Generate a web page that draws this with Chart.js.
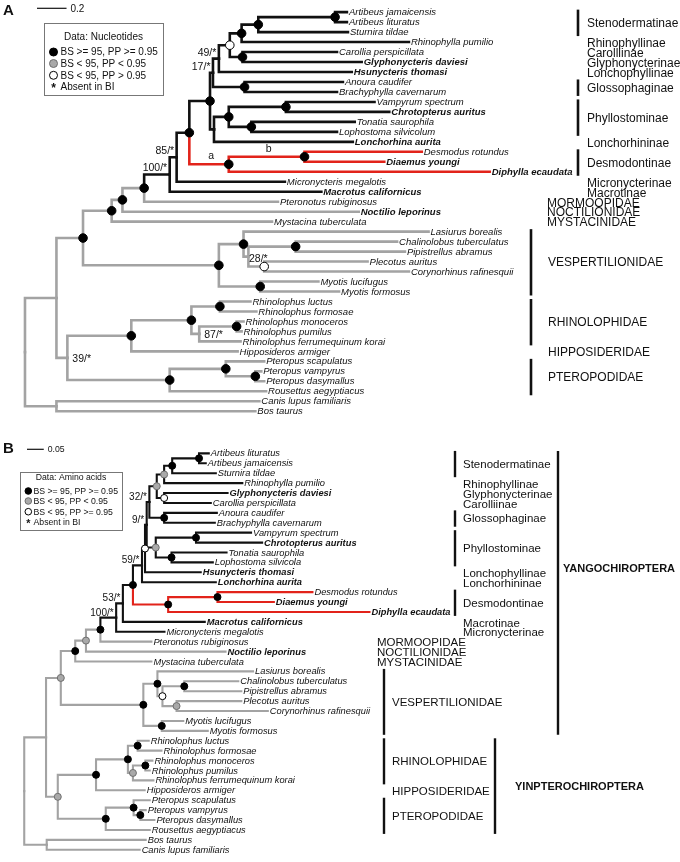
<!DOCTYPE html>
<html>
<head>
<meta charset="utf-8">
<script src="https://cdn.jsdelivr.net/npm/chart.js@4.4.1/dist/chart.umd.min.js"></script>
<style>
    html, body { margin: 0; padding: 0; background: #fff; }
    canvas { display: block; }
</style>
</head>
<body>
<canvas id="treeA" width="680" height="430"></canvas>
<canvas id="treeB" width="680" height="432"></canvas>
<script>
// ---- panel A : nucleotides ----
const tipsA = [
    'Artibeus jamaicensis', 'Artibeus lituratus', 'Sturnira tildae', 'Rhinophylla pumilio',
    'Carollia perspicillata', 'Glyphonycteris daviesi', 'Hsunycteris thomasi', 'Anoura caudifer',
    'Brachyphylla cavernarum', 'Vampyrum spectrum', 'Chrotopterus auritus', 'Tonatia saurophila',
    'Lophostoma silvicolum', 'Lonchorhina aurita', 'Desmodus rotundus', 'Diaemus youngi',
    'Diphylla ecaudata', 'Micronycteris megalotis', 'Macrotus californicus', 'Pteronotus rubiginosus',
    'Noctilio leporinus', 'Mystacina tuberculata', 'Lasiurus borealis', 'Chalinolobus tuberculatus',
    'Pipistrellus abramus', 'Plecotus auritus', 'Corynorhinus rafinesquii', 'Myotis lucifugus',
    'Myotis formosus', 'Rhinolophus luctus', 'Rhinolophus formosae', 'Rhinolophus monoceros',
    'Rhinolophus pumilus', 'Rhinolophus ferrumequinum korai', 'Hipposideros armiger', 'Pteropus scapulatus',
    'Pteropus vampyrus', 'Pteropus dasymallus', 'Rousettus aegyptiacus', 'Canis lupus familiaris',
    'Bos taurus'
];
// distance from root to each tip (substitutions / site)
const tipXA = [
    2.180, 2.180, 2.187, 2.600, 2.113, 2.280, 2.213, 2.153, 2.113, 2.367,
    2.467, 2.233, 2.113, 2.220, 2.687, 2.433, 3.147, 1.760, 2.007, 1.713,
    2.260, 1.673, 2.733, 2.520, 2.573, 2.320, 2.600, 1.987, 2.127, 1.527,
    1.567, 1.480, 1.467, 1.460, 1.440, 1.620, 1.600, 1.620, 1.633, 1.587,
    1.560
];
// [id, children, depth, dot (b black / g grey / w white), support, label place]
const nodesA = [
    ['ART', [0, 1], 2.100, 'b'],
    ['STU', ['ART', 2], 1.580, 'b'],
    ['RHI', ['STU', 3], 1.467, 'b'],
    ['CAR', [4, 5], 1.473, 'b'],
    ['U49', ['RHI', 'CAR'], 1.387, 'w'],
    ['N49', ['U49', 6], 1.313, '', '49/*', 'left'],
    ['GLO', [7, 8], 1.487, 'b'],
    ['N17', ['N49', 'GLO'], 1.273, '', '17/*', 'left'],
    ['VAM', [9, 10], 1.767, 'b'],
    ['TON', [11, 12], 1.533, 'b'],
    ['PHY', ['VAM', 'TON'], 1.380, 'b'],
    ['PL', ['PHY', 13], 1.280, ''],
    ['N208', ['N17', 'PL'], 1.253, 'b'],
    ['DES2', [14, 15], 1.893, 'b', 'b', 'mid'],
    ['DES', ['DES2', 16], 1.380, 'b', 'a', 'mid'],
    ['N187', ['N208', 'DES'], 1.113, 'b'],
    ['N85', ['N187', 17], 1.027, '', '85/*', 'left'],
    ['N100', ['N85', 18], 0.980, '', '100/*', 'left'],
    ['MOR', ['N100', 19], 0.807, 'b'],
    ['NOC', ['MOR', 20], 0.660, 'b'],
    ['NOO', ['NOC', 21], 0.587, 'b'],
    ['CHA', [23, 24], 1.833, 'b'],
    ['PLE', [25, 26], 1.620, 'w', '28/*', 'mid'],
    ['V2', ['CHA', 'PLE'], 1.513, ''],
    ['V1', [22, 'V2'], 1.480, 'b'],
    ['MYO', [27, 28], 1.593, 'b'],
    ['VES', ['V1', 'MYO'], 1.313, 'b'],
    ['YAN', ['NOO', 'VES'], 0.393, 'b'],
    ['LUC', [29, 30], 1.320, 'b'],
    ['MON', [31, 32], 1.433, 'b'],
    ['R87', ['MON', 33], 1.180, '', '87/*', 'right'],
    ['RHL', ['LUC', 'R87'], 1.127, 'b'],
    ['RHO', ['RHL', 34], 0.720, 'b'],
    ['PTV', [36, 37], 1.560, 'b'],
    ['PTE', [35, 'PTV'], 1.360, 'b'],
    ['PTD', ['PTE', 38], 0.980, 'b'],
    ['YIN', ['RHO', 'PTD'], 0.287, '', '39/*', 'right'],
    ['BAT', ['YAN', 'YIN'], 0.213, ''],
    ['OUT', [39, 40], 0.213, ''],
    ['ROOT', ['BAT', 'OUT'], 0, '']
];
// [name, first row, last row, level, bar]
const cladesA = [
    ['Stenodermatinae', 0, 2, 'sub', true],
    ['Rhinophyllinae', 3, 3, 'sub', false],
    ['Carolliinae', 4, 4, 'sub', false],
    ['Glyphonycterinae', 5, 5, 'sub', false],
    ['Lonchophyllinae', 6, 6, 'sub', false],
    ['Glossophaginae', 7, 8, 'sub', true],
    ['Phyllostominae', 9, 12, 'sub', true],
    ['Lonchorhininae', 13, 13, 'sub', false],
    ['Desmodontinae', 14, 16, 'sub', true],
    ['Micronycterinae', 17, 17, 'sub', false],
    ['Macrotinae', 18, 18, 'sub', false],
    ['MORMOOPIDAE', 19, 19, 'fam0', false],
    ['NOCTILIONIDAE', 20, 20, 'fam0', false],
    ['MYSTACINIDAE', 21, 21, 'fam0', false],
    ['VESPERTILIONIDAE', 22, 28, 'fam', true],
    ['RHINOLOPHIDAE', 29, 33, 'fam', true],
    ['HIPPOSIDERIDAE', 34, 34, 'fam', false],
    ['PTEROPODIDAE', 35, 38, 'fam', true]
];
const legendA = ['BS >= 95, PP >= 0.95', 'BS < 95, PP < 0.95', 'BS < 95, PP > 0.95', 'Absent in BI'];

// ---- panel B : amino acids ----
const tipsB = [
    'Artibeus lituratus', 'Artibeus jamaicensis', 'Sturnira tildae', 'Rhinophylla pumilio',
    'Glyphonycteris daviesi', 'Carollia perspicillata', 'Anoura caudifer', 'Brachyphylla cavernarum',
    'Vampyrum spectrum', 'Chrotopterus auritus', 'Tonatia saurophila', 'Lophostoma silvicola',
    'Hsunycteris thomasi', 'Lonchorhina aurita', 'Desmodus rotundus', 'Diaemus youngi',
    'Diphylla ecaudata', 'Macrotus californicus', 'Micronycteris megalotis', 'Pteronotus rubiginosus',
    'Noctilio leporinus', 'Mystacina tuberculata', 'Lasiurus borealis', 'Chalinolobus tuberculatus',
    'Pipistrellus abramus', 'Plecotus auritus', 'Corynorhinus rafinesquii', 'Myotis lucifugus',
    'Myotis formosus', 'Rhinolophus luctus', 'Rhinolophus formosae', 'Rhinolophus monoceros',
    'Rhinolophus pumilus', 'Rhinolophus ferrumequinum korai', 'Hipposideros armiger', 'Pteropus scapulatus',
    'Pteropus vampyrus', 'Pteropus dasymallus', 'Rousettus aegyptiacus', 'Bos taurus',
    'Canis lupus familiaris'
];
const tipXB = [
    0.550, 0.541, 0.571, 0.650, 0.606, 0.556, 0.574, 0.568, 0.676, 0.709,
    0.603, 0.562, 0.526, 0.571, 0.859, 0.744, 1.029, 0.538, 0.418, 0.379,
    0.600, 0.379, 0.682, 0.638, 0.647, 0.647, 0.726, 0.474, 0.547, 0.371,
    0.409, 0.382, 0.374, 0.385, 0.359, 0.374, 0.362, 0.388, 0.374, 0.362,
    0.344
];
const nodesB = [
    ['ART', [0, 1], 0.521, 'b'],
    ['STU', ['ART', 2], 0.441, 'b'],
    ['RHI', ['STU', 3], 0.417, 'g'],
    ['CAR', [4, 5], 0.417, 'w'],
    ['SRC', ['RHI', 'CAR'], 0.395, 'g'],
    ['GLO', [6, 7], 0.417, 'b'],
    ['N32', ['SRC', 'GLO'], 0.373, '', '32/*', 'left'],
    ['VAM', [8, 9], 0.512, 'b'],
    ['TON', [10, 11], 0.439, 'b'],
    ['PHY', ['VAM', 'TON'], 0.392, 'g'],
    ['N9', ['N32', 'PHY'], 0.365, '', '9/*', 'left'],
    ['NH', ['N9', 12], 0.360, 'w'],
    ['NL', ['NH', 13], 0.351, '', '59/*', 'left'],
    ['DES2', [14, 15], 0.576, 'b'],
    ['DES', ['DES2', 16], 0.429, 'b'],
    ['N59', ['NL', 'DES'], 0.324, 'b'],
    ['N53', ['N59', 17], 0.294, '', '53/*', 'left'],
    ['N100', ['N53', 18], 0.274, '', '100/*', 'left'],
    ['MOR', ['N100', 19], 0.227, 'b'],
    ['NOC', ['MOR', 20], 0.184, 'g'],
    ['NOO', ['NOC', 21], 0.152, 'b'],
    ['CHA', [23, 24], 0.477, 'b'],
    ['PLE', [25, 26], 0.454, 'g'],
    ['V2', ['CHA', 'PLE'], 0.412, 'w'],
    ['V1', [22, 'V2'], 0.397, 'b'],
    ['MYO', [27, 28], 0.410, 'b'],
    ['VES', ['V1', 'MYO'], 0.355, 'b'],
    ['YAN', ['NOO', 'VES'], 0.109, 'g'],
    ['LUC', [29, 30], 0.338, 'b'],
    ['MON', [31, 32], 0.361, 'b'],
    ['RFG', ['MON', 33], 0.324, 'g'],
    ['RHL', ['LUC', 'RFG'], 0.309, 'b'],
    ['RHO', ['RHL', 34], 0.214, 'b'],
    ['PTV', [36, 37], 0.346, 'b'],
    ['PTE', [35, 'PTV'], 0.326, 'b'],
    ['PTD', ['PTE', 38], 0.243, 'b'],
    ['YIN', ['RHO', 'PTD'], 0.100, 'g'],
    ['BAT', ['YAN', 'YIN'], 0.065, ''],
    ['OUT', [39, 40], 0.067, ''],
    ['ROOT', ['BAT', 'OUT'], 0, '']
];
const cladesB = [
    ['Stenodermatinae', 0, 2, 'sub', true],
    ['Rhinophyllinae', 3, 3, 'sub', false],
    ['Glyphonycterinae', 4, 4, 'sub', false],
    ['Carolliinae', 5, 5, 'sub', false],
    ['Glossophaginae', 6, 7, 'sub', true],
    ['Phyllostominae', 8, 11, 'sub', true],
    ['Lonchophyllinae', 12, 12, 'sub', false],
    ['Lonchorhininae', 13, 13, 'sub', false],
    ['Desmodontinae', 14, 16, 'sub', true],
    ['Macrotinae', 17, 17, 'sub', false],
    ['Micronycterinae', 18, 18, 'sub', false],
    ['MORMOOPIDAE', 19, 19, 'fam0', false],
    ['NOCTILIONIDAE', 20, 20, 'fam0', false],
    ['MYSTACINIDAE', 21, 21, 'fam0', false],
    ['VESPERTILIONIDAE', 22, 28, 'fam', true],
    ['RHINOLOPHIDAE', 29, 33, 'fam', true],
    ['HIPPOSIDERIDAE', 34, 34, 'fam', false],
    ['PTEROPODIDAE', 35, 38, 'fam', true],
    ['YANGOCHIROPTERA', 0, 28, 'ord1', true, 11.7],
    ['YINPTEROCHIROPTERA', 29, 38, 'ord2', true]
];
const legendB = ['BS >= 95, PP >= 0.95', 'BS < 95, PP < 0.95', 'BS < 95, PP >= 0.95', 'Absent in BI'];

const boldTips = [
    'Glyphonycteris daviesi', 'Hsunycteris thomasi', 'Chrotopterus auritus', 'Lonchorhina aurita',
    'Diaemus youngi', 'Diphylla ecaudata', 'Macrotus californicus', 'Noctilio leporinus'
];

const FONT = '"Liberation Sans", Arial, Helvetica, sans-serif';
const INK = '#111';
const RED = '#e2231a';
const GREY = '#a3a3a3';
const DOT_FILL = { b: '#000', g: '#a9a9a9', w: '#fff' };
const DOT_EDGE = { b: '#000', g: '#6f6f6f', w: '#000' };

function makePanel(canvasId, d) {
    const pos = {}, parent = {};
    d.tipX.forEach(function(x, i) { pos[i] = { x: x, y: i }; });
    d.nodes.forEach(function(n) {
        const ys = n[1].map(function(k) { return pos[k].y; });
        pos[n[0]] = { x: n[2], y: (ys[0] + ys[ys.length - 1]) / 2 };
        n[1].forEach(function(k) { parent[k] = n[0]; });
    });
    function under(id, root) {
        let c = id;
        while (c !== undefined) {
            if (c === root) return true;
            c = parent[c];
        }
        return false;
    }
    function colourOf(id) {
        if (under(id, 'DES')) return RED;
        if (under(id, 'N100')) return INK;
        return GREY;
    }

    const datasets = [];
    ['b', 'g', 'w'].forEach(function(t) {
        datasets.push({
            data: d.nodes.filter(function(n) { return n[3] === t; })
                .map(function(n) { return { x: pos[n[0]].x, y: pos[n[0]].y }; }),
            showLine: false,
            pointRadius: d.dotR,
            pointHoverRadius: d.dotR,
            pointBackgroundColor: DOT_FILL[t],
            pointBorderColor: DOT_EDGE[t],
            pointBorderWidth: 1,
            order: 0,
            clip: false
        });
    });
    d.nodes.forEach(function(n) {
        const p = pos[n[0]];
        n[1].forEach(function(k) {
            const c = pos[k];
            datasets.push({
                data: [{ x: p.x, y: p.y }, { x: p.x, y: c.y }, { x: c.x, y: c.y }],
                showLine: true,
                borderColor: colourOf(k),
                borderWidth: d.lineW,
                borderCapStyle: 'square',
                borderJoinStyle: 'miter',
                pointRadius: 0,
                pointHoverRadius: 0,
                tension: 0,
                fill: false,
                order: 1,
                clip: false
            });
        });
    });

    const treeText = {
        id: 'treeText',
        afterDatasetsDraw: function(chart) {
            const ctx = chart.ctx;
            const X = function(v) { return chart.scales.x.getPixelForValue(v); };
            const Y = function(v) { return chart.scales.y.getPixelForValue(v); };
            ctx.save();
            ctx.fillStyle = INK;

            // tip names
            ctx.textAlign = 'left';
            ctx.textBaseline = 'middle';
            d.tips.forEach(function(name, i) {
                const bold = boldTips.indexOf(name) >= 0;
                ctx.font = 'italic ' + (bold ? 'bold ' : '') + d.tipFont + 'px ' + FONT;
                ctx.fillText(name, X(d.tipX[i]) + 2, Y(i) + 0.5);
            });

            // support values
            ctx.font = d.supFont + 'px ' + FONT;
            d.nodes.forEach(function(n) {
                if (!n[4]) return;
                const px = X(pos[n[0]].x), py = Y(pos[n[0]].y);
                if (n[5] === 'left') {
                    ctx.textAlign = 'right';
                    ctx.textBaseline = 'alphabetic';
                    ctx.fillText(n[4], px - 2.5, py - d.supLift);
                } else if (n[5] === 'mid') {
                    const pp = X(pos[parent[n[0]]].x);
                    ctx.textAlign = 'center';
                    ctx.textBaseline = 'alphabetic';
                    ctx.fillText(n[4], (pp + px) / 2 + 2, py - 5);
                } else {
                    ctx.textAlign = 'left';
                    ctx.textBaseline = 'middle';
                    ctx.fillText(n[4], px + 5, py + 1);
                }
            });

            // clade bars and names
            ctx.textAlign = 'left';
            ctx.textBaseline = 'middle';
            ctx.strokeStyle = INK;
            ctx.lineWidth = d.barW;
            d.clades.forEach(function(c) {
                const sx = d.cladeX[c[3]];
                if (c[4]) {
                    ctx.beginPath();
                    ctx.moveTo(sx[0], Y(c[1] - 0.25));
                    ctx.lineTo(sx[0], Y(c[2] + 0.4));
                    ctx.stroke();
                }
                const ord = c[3].indexOf('ord') === 0;
                ctx.font = (ord ? 'bold ' + d.ordFont : d.cladeFont) + 'px ' + FONT;
                const row = c[5] !== undefined ? c[5] : (c[1] + c[2]) / 2 + 0.15;
                ctx.fillText(c[0], sx[1], Y(row));
            });

            // panel letter and scale bar
            ctx.font = 'bold 15px ' + FONT;
            ctx.fillText(d.letter, 3, d.letterY);
            const len = X(d.scaleLen) - X(0);
            ctx.lineWidth = 1.2;
            ctx.beginPath();
            ctx.moveTo(d.scaleX, d.scaleY);
            ctx.lineTo(d.scaleX + len, d.scaleY);
            ctx.stroke();
            ctx.font = d.legFont + 'px ' + FONT;
            ctx.fillText(String(d.scaleLen), d.scaleX + len + 4, d.scaleY + 0.5);

            // legend box
            const L = d.legBox;
            ctx.fillStyle = '#fff';
            ctx.fillRect(L[0], L[1], L[2], L[3]);
            ctx.strokeStyle = '#777';
            ctx.lineWidth = 1;
            ctx.strokeRect(L[0] + 0.5, L[1] + 0.5, L[2], L[3]);
            ctx.fillStyle = INK;
            ctx.textAlign = 'center';
            ctx.fillText(d.legTitle, L[0] + L[2] / 2, L[1] + d.legRows[0]);
            ctx.textAlign = 'left';
            ['b', 'g', 'w', '*'].forEach(function(t, i) {
                const yy = L[1] + d.legRows[i + 1];
                const mx = L[0] + d.legMarkX;
                if (t === '*') {
                    ctx.font = 'bold ' + (d.legFont + 2) + 'px ' + FONT;
                    ctx.textAlign = 'center';
                    ctx.fillText('*', mx, yy + 2);
                    ctx.textAlign = 'left';
                } else {
                    ctx.beginPath();
                    ctx.arc(mx, yy, d.legR, 0, Math.PI * 2);
                    ctx.fillStyle = DOT_FILL[t];
                    ctx.fill();
                    ctx.strokeStyle = DOT_EDGE[t];
                    ctx.lineWidth = 1;
                    ctx.stroke();
                    ctx.fillStyle = INK;
                }
                ctx.font = d.legFont + 'px ' + FONT;
                ctx.fillText(d.legItems[i], L[0] + d.legTextX, yy + 0.5);
            });
            ctx.restore();
        }
    };

    const el = document.getElementById(canvasId);
    const w = el.width, h = el.height;
    new Chart(el, {
        type: 'scatter',
        data: { datasets: datasets },
        options: {
            responsive: false,
            animation: false,
            events: [],
            layout: { padding: 0 },
            plugins: {
                legend: { display: false },
                tooltip: { enabled: false }
            },
            scales: {
                x: {
                    type: 'linear', display: false,
                    min: -d.rootPx / d.pxPerUnit,
                    max: (w - d.rootPx) / d.pxPerUnit
                },
                y: {
                    type: 'linear', display: false, reverse: true,
                    min: -d.rowTop / d.rowStep,
                    max: (h - d.rowTop) / d.rowStep
                }
            }
        },
        plugins: [treeText]
    });
}

document.addEventListener('DOMContentLoaded', function() {
    makePanel('treeA', {
        tips: tipsA, tipX: tipXA, nodes: nodesA, clades: cladesA, legItems: legendA,
        legTitle: 'Data: Nucleotides', letter: 'A', letterY: 11,
        rootPx: 20, pxPerUnit: 150, rowTop: 7, rowStep: 10.23,
        lineW: 2.6, dotR: 4.3, barW: 2.6,
        tipFont: 9.5, supFont: 10.5, supLift: 3, cladeFont: 12, ordFont: 11, legFont: 10,
        cladeX: { sub: [578, 587], fam: [531, 548], fam0: [0, 547] },
        scaleLen: 0.2, scaleX: 37, scaleY: 8.3,
        legBox: [44, 23, 119, 72], legRows: [14, 29, 40.5, 52.3, 64],
        legMarkX: 9.5, legTextX: 16.5, legR: 4
    });
    makePanel('treeB', {
        tips: tipsB, tipX: tipXB, nodes: nodesB, clades: cladesB, legItems: legendB,
        legTitle: 'Data: Amino acids', letter: 'B', letterY: 18.7,
        rootPx: 20, pxPerUnit: 340, rowTop: 19.3, rowStep: 10.12,
        lineW: 2.1, dotR: 3.5, barW: 2.4,
        tipFont: 9.3, supFont: 10, supLift: 2, cladeFont: 11.5, ordFont: 11, legFont: 8.7,
        cladeX: { sub: [455, 463], fam: [384, 392], fam0: [0, 377], ord1: [558, 563], ord2: [495, 515] },
        scaleLen: 0.05, scaleX: 27, scaleY: 19.3,
        legBox: [20, 42, 102, 58], legRows: [5.5, 19, 29, 39.7, 49.7],
        legMarkX: 8.3, legTextX: 13.5, legR: 3.3
    });
});
</script>
</body>
</html>
